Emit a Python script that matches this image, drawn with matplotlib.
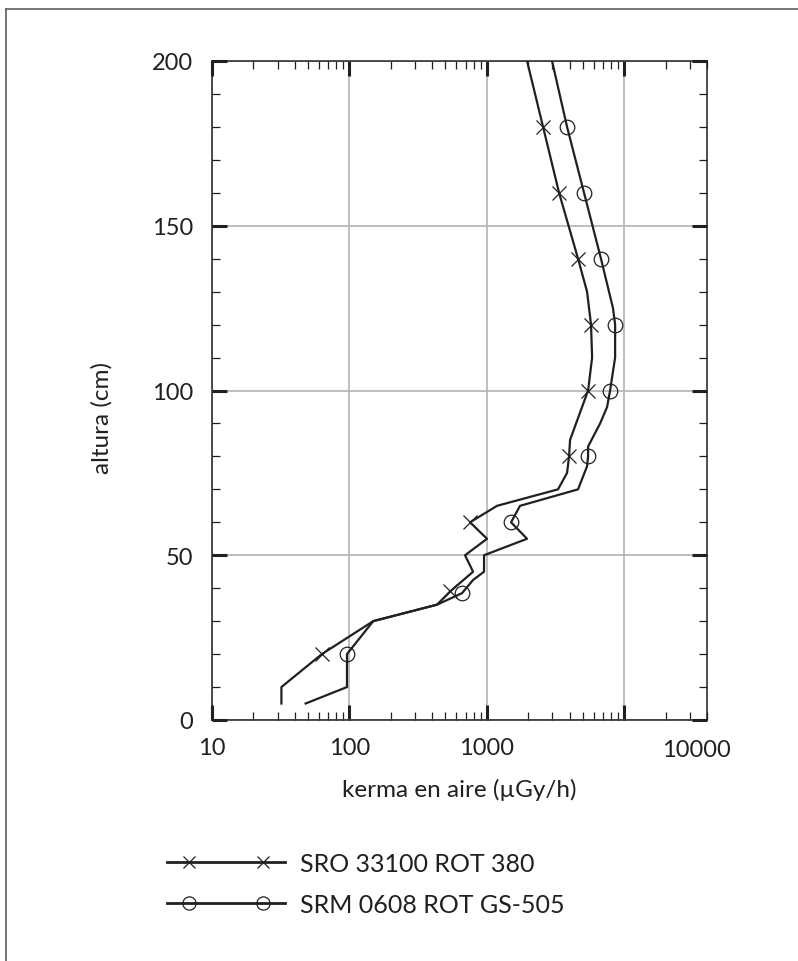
import matplotlib
matplotlib.use("Agg")
import matplotlib.pyplot as plt
from matplotlib.lines import Line2D
from matplotlib.legend_handler import HandlerLine2D
from matplotlib.ticker import LogLocator, MultipleLocator, NullFormatter

# ---- data ----
h_sro = [5, 10, 20, 30, 35, 39, 45, 50, 55, 60, 65, 70, 75, 80, 85, 90, 100,
         110, 120, 130, 140, 160, 180, 200]
k_sro = [32, 32, 63, 149, 434, 540, 794, 694, 1003, 755, 1186, 3296, 3835,
         3965, 4033, 4460, 5455, 5835, 5730, 5360, 4610, 3354, 2565, 1962]
mk_sro = [20, 39, 60, 80, 100, 120, 140, 160, 180]

h_srm = [5, 10, 20, 30, 35, 38.5, 42.5, 45, 50, 55, 60, 65, 70, 77, 80, 83,
         90, 95, 100, 110, 120, 125, 140, 160, 180, 200]
k_srm = [48, 96, 96, 149, 434, 660, 794, 954, 954, 1962, 1500, 1744, 4610,
         5360, 5455, 5455, 6670, 7500, 7885, 8580, 8580, 8280, 6770, 5097,
         3835, 2982]
mk_srm = [20, 38.5, 60, 80, 100, 120, 140, 160, 180]

labels = ["SRO 33100 ROT 380", "SRM 0608 ROT GS-505"]
xtick_vals = [10, 100, 1000, 10000]
xtick_labels = ["10", "100", "1000", "10000"]
ytick_vals = [0, 50, 100, 150, 200]
xlabel = "kerma en aire (µGy/h)"
ylabel = "altura (cm)"

# ---- style ----
plt.rcParams['font.family'] = ['Lato', 'DejaVu Sans']
INK = '#231f20'
FS_TICK = 17
FS_LAB = 17.5
FS_LEG = 18
W, H = 798, 962
fig = plt.figure(figsize=(W / 100, H / 100), dpi=100)
fig.patch.set_facecolor('white')

L, R, T, B = 212, 707, 62, 721
ax = fig.add_axes([L / W, 1 - B / H, (R - L) / W, (B - T) / H])

ax.plot(k_sro, h_sro, color=INK, lw=1.6, marker='x', ms=10.5, mew=0.9,
        markevery=[h_sro.index(v) for v in mk_sro], zorder=3)
ax.plot(k_srm, h_srm, color=INK, lw=1.6, marker='o', ms=10.5, mew=0.9,
        mfc='none', mec=INK,
        markevery=[h_srm.index(v) for v in mk_srm], zorder=3)

ax.set_xscale('log')
ax.set_xlim(10, 40000)
ax.set_ylim(0, 200)

ax.set_xticks(xtick_vals)
ax.set_xticklabels(xtick_labels[:-1] + [""])
ax.xaxis.set_minor_locator(LogLocator(base=10, subs=range(2, 10), numticks=20))
ax.xaxis.set_minor_formatter(NullFormatter())
ax.set_yticks(ytick_vals)
ax.yaxis.set_minor_locator(MultipleLocator(10))

ax.tick_params(which='both', direction='in', top=True, right=True,
               colors=INK, labelcolor=INK)
ax.tick_params(which='major', length=10.5, width=2.2, labelsize=FS_TICK)
ax.tick_params(axis='x', which='major', pad=12.5)
ax.tick_params(axis='y', which='major', pad=13.5)
ax.tick_params(which='minor', length=5.5, width=0.9)

for s in ax.spines.values():
    s.set_color(INK)
    s.set_linewidth(1.1)

ax.grid(True, which='major', color='#b3b3b3', lw=1.2)
ax.set_axisbelow(True)

# last x tick label sits at the right end in the reference
ax.text((696 - L) / (R - L), -(739 - B) / (B - T) - 0.0015, xtick_labels[-1],
        transform=ax.transAxes, ha='center', va='top', fontsize=FS_TICK,
        color=INK)

fig.text((L + R) / 2 / W, 1 - 790 / H, xlabel, ha='center', va='center',
         fontsize=FS_LAB, color=INK)
fig.text(102 / W, 1 - 418 / H, ylabel, ha='center', va='center',
         rotation=90, fontsize=FS_LAB, color=INK)


class LineBeyondMarkers(HandlerLine2D):
    """Legend key: line over the full handle length, two markers inset."""
    def create_artists(self, legend, orig_handle, xdescent, ydescent,
                       width, height, fontsize, trans):
        pad = self._marker_pad * fontsize
        y = (height - ydescent) / 2
        line = Line2D([-xdescent, -xdescent + width], [y, y])
        self.update_prop(line, orig_handle, legend)
        line.set_marker('None')
        mk = Line2D([-xdescent + pad, -xdescent + width - pad], [y, y])
        self.update_prop(mk, orig_handle, legend)
        mk.set_linestyle('None')
        line.set_transform(trans)
        mk.set_transform(trans)
        return [line, mk]


hx = Line2D([], [], color=INK, lw=2.0, marker='x', ms=9, mew=0.9)
ho = Line2D([], [], color=INK, lw=2.0, marker='o', ms=9.5, mew=0.9,
            mfc='none', mec=INK)
fig.legend([hx, ho], labels, loc='upper left',
           bbox_to_anchor=(167 / W, 1 - 853 / H), frameon=False,
           fontsize=FS_LEG, handlelength=4.72, handletextpad=0.6,
           labelspacing=0.72, borderpad=0, borderaxespad=0,
           handler_map={hx: LineBeyondMarkers(marker_pad=0.88),
                        ho: LineBeyondMarkers(marker_pad=0.88)},
           labelcolor=INK)

# outer frame (top and left visible)
fig.add_artist(Line2D([6 / W, 6 / W], [0, 1 - 10 / H], transform=fig.transFigure,
                      color='#6a6a6a', lw=1.3))
fig.add_artist(Line2D([6 / W, 1], [1 - 10 / H, 1 - 10 / H], transform=fig.transFigure,
                      color='#6a6a6a', lw=1.3))

fig.savefig('out.png', dpi=100, facecolor='white')
